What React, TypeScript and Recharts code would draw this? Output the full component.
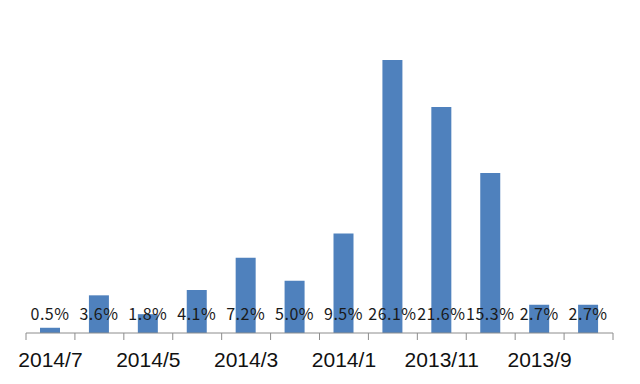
import React from 'react';
import { BarChart, Bar, XAxis, YAxis, LabelList } from 'recharts';

const categories = ['2014/7', '2014/6', '2014/5', '2014/4', '2014/3', '2014/2', '2014/1', '2013/12', '2013/11', '2013/10', '2013/9', '2013/8'];
const values = [0.5, 3.6, 1.8, 4.1, 7.2, 5.0, 9.5, 26.1, 21.6, 15.3, 2.7, 2.7];
const labels = ['0.5%', '3.6%', '1.8%', '4.1%', '7.2%', '5.0%', '9.5%', '26.1%', '21.6%', '15.3%', '2.7%', '2.7%'];

const data = categories.map((c, i) => ({ name: c, value: values[i], label: labels[i] }));

const W = 640;
const H = 384;
const ML = 26;
const MR = 27;
const BAND = (W - ML - MR) / categories.length;
const AXIS_COLOR = '#8c8c8c';

const Tick = (props: any) => {
  const { x, y, payload, index } = props;
  const left = x - BAND / 2;
  const right = x + BAND / 2;
  return (
    <g>
      <line x1={left} y1={y - 8} x2={left} y2={y - 1} stroke={AXIS_COLOR} strokeWidth={1} />
      {index === categories.length - 1 && (
        <line x1={right} y1={y - 8} x2={right} y2={y - 1} stroke={AXIS_COLOR} strokeWidth={1} />
      )}
      {index % 2 === 0 && (
        <text x={x} y={y + 26} textAnchor="middle" fontSize={21} fill="#111" fontFamily="'Liberation Sans', Arial, sans-serif">
          {payload.value}
        </text>
      )}
    </g>
  );
};

const Lbl = (props: any) => {
  const { x, width, value } = props;
  return (
    <text x={x + width / 2} y={320} textAnchor="middle" fontSize={16} letterSpacing={0.5} fill="#1a1a1a" fontFamily="'Noto Sans CJK SC', sans-serif">
      {value}
    </text>
  );
};

export default function App() {
  return (
    <div style={{ position: 'absolute', left: 0, top: 0, width: W, height: H, background: '#fff' }}>
      <BarChart width={W} height={H} data={data} margin={{ top: 40, right: MR, left: ML, bottom: 0 }} barCategoryGap={0}>
        <YAxis hide domain={[0, 28]} />
        <XAxis
          dataKey="name"
          interval={0}
          height={51}
          tickLine={false}
          axisLine={{ stroke: AXIS_COLOR }}
          tick={<Tick />}
        />
        <Bar dataKey="value" fill="#4f81bd" barSize={20} isAnimationActive={false}>
          <LabelList dataKey="label" content={<Lbl />} />
        </Bar>
      </BarChart>
    </div>
  );
}
